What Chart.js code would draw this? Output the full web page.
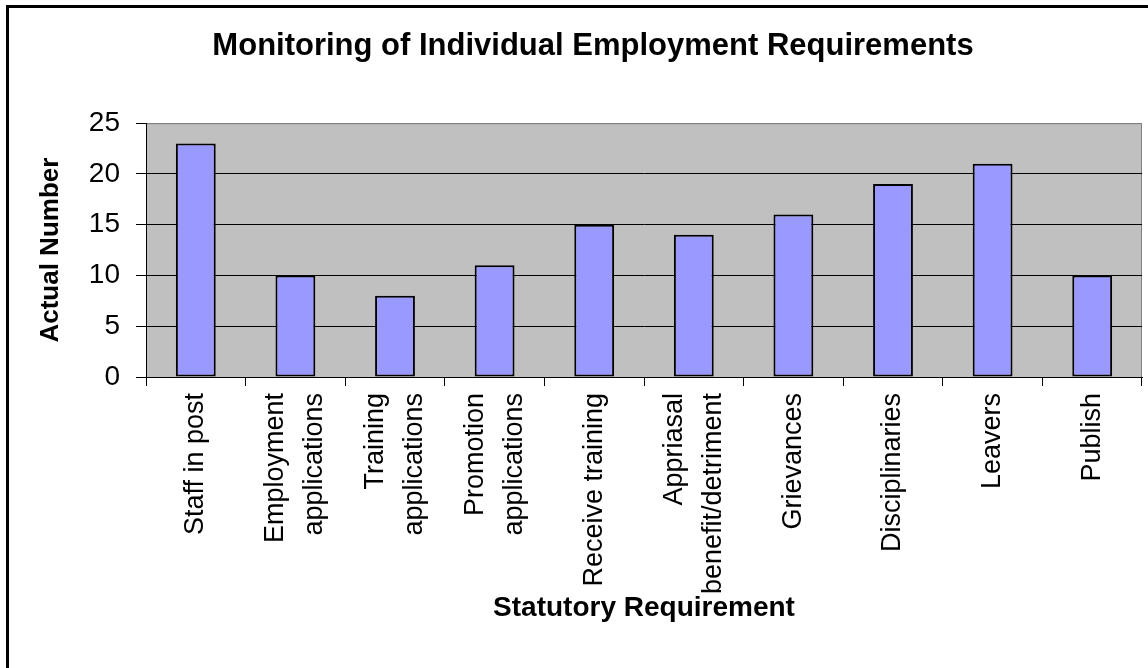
<!DOCTYPE html>
<html>
<head>
<meta charset="utf-8">
<script src="https://cdn.jsdelivr.net/npm/chart.js@4.4.0/dist/chart.umd.min.js"></script>
<style>
    html, body { margin: 0; padding: 0; background: #fff; overflow: hidden; }
    #frame {
        position: absolute; left: 6px; top: 5px; width: 2000px; height: 2000px;
        border-left: 3px solid #000; border-top: 3px solid #000; pointer-events: none;
    }
    #chart { position: absolute; left: 0; top: 0; }
</style>
</head>
<body>
<canvas id="chart" width="1148" height="668"></canvas>
<div id="frame"></div>
<script>
const categories = [
    ["Staff in post"],
    ["Employment", "applications"],
    ["Training", "applications"],
    ["Promotion", "applications"],
    ["Receive training"],
    ["Appriasal", "benefit/detriment"],
    ["Grievances"],
    ["Disciplinaries"],
    ["Leavers"],
    ["Publish"]
];
const actualNumber = [23, 10, 8, 11, 15, 14, 16, 19, 21, 10];
const yTicks = [0, 5, 10, 15, 20, 25];

const FONT = 'Arial, "Liberation Sans", sans-serif';

// gray plot area with a thin gray edge on top and right
const plotBackground = {
    id: "plotBackground",
    beforeDraw(chart) {
        const { ctx, chartArea: a } = chart;
        ctx.save();
        ctx.fillStyle = "#C0C0C0";
        ctx.fillRect(a.left, a.top, a.right - a.left, a.bottom - a.top);
        ctx.strokeStyle = "#808080";
        ctx.lineWidth = 1;
        ctx.beginPath();
        ctx.moveTo(a.left, a.top + 0.5);
        ctx.lineTo(a.right - 0.5, a.top + 0.5);
        ctx.lineTo(a.right - 0.5, a.bottom);
        ctx.stroke();
        ctx.restore();
    }
};

// rotated category labels, each block centred on its bar
const xLabels = {
    id: "xLabels",
    afterDraw(chart) {
        const { ctx } = chart;
        const xScale = chart.scales.x;
        const lineH = 39;
        ctx.save();
        ctx.font = "27px " + FONT;
        ctx.fillStyle = "#000";
        ctx.textAlign = "right";
        ctx.textBaseline = "middle";
        categories.forEach((lines, i) => {
            const x = xScale.getPixelForValue(i);
            ctx.save();
            ctx.translate(x, xScale.top + 16);
            ctx.rotate(-Math.PI / 2);
            lines.forEach((line, j) => {
                ctx.fillText(line, 0, (j - (lines.length - 1) / 2) * lineH);
            });
            ctx.restore();
        });
        ctx.restore();
    }
};

new Chart(document.getElementById("chart"), {
    type: "bar",
    data: {
        labels: categories,
        datasets: [{
            label: "Actual Number",
            data: actualNumber,
            backgroundColor: "#9999FF",
            borderColor: "#000",
            borderWidth: 2,
            borderSkipped: false,
            barPercentage: 0.4,
            categoryPercentage: 1.0
        }]
    },
    options: {
        responsive: false,
        animation: false,
        layout: { padding: { left: 44, right: 6, top: 0, bottom: 0 } },
        plugins: {
            legend: { display: false },
            tooltip: { enabled: false },
            title: {
                display: true,
                text: "Monitoring of Individual Employment Requirements",
                color: "#000",
                font: { family: FONT, size: 31, weight: "bold", lineHeight: 1.2 },
                padding: { top: 28, bottom: 58 }
            }
        },
        scales: {
            x: {
                offset: true,
                grid: { display: true, drawOnChartArea: false, drawTicks: true, tickLength: 9, color: "#000" },
                border: { display: true, color: "#000", width: 1 },
                ticks: { display: false },
                title: {
                    display: true,
                    text: "Statutory Requirement",
                    color: "#000",
                    font: { family: FONT, size: 28, weight: "bold", lineHeight: 1.2 },
                    padding: { top: 0, bottom: 43 }
                },
                afterFit(scale) { scale.height = 291; }
            },
            y: {
                min: 0,
                max: 25,
                afterBuildTicks(scale) { scale.ticks = yTicks.map(v => ({ value: v })); },
                grid: {
                    color: ctx => (ctx.tick && ctx.tick.value === 25 ? "#808080" : "#000"),
                    tickColor: "#000",
                    tickLength: 10,
                    lineWidth: 1
                },
                border: { display: true, color: "#000", width: 1 },
                ticks: {
                    color: "#000",
                    padding: 16,
                    font: { family: FONT, size: 28 }
                },
                title: {
                    display: true,
                    text: "Actual Number",
                    color: "#000",
                    font: { family: FONT, size: 26, weight: "bold", lineHeight: 1.2 },
                    padding: { top: -8.6, bottom: 0 }
                },
                afterFit(scale) { scale.width = 102; }
            }
        }
    },
    plugins: [plotBackground, xLabels]
});
</script>
</body>
</html>
